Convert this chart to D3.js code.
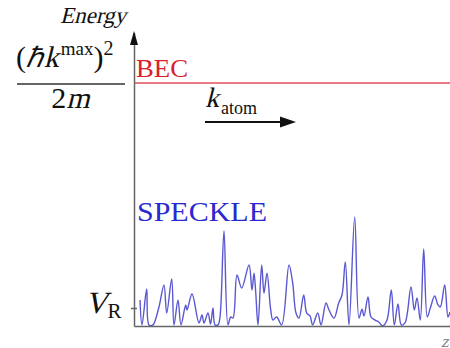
<!DOCTYPE html>
<html>
<head>
<meta charset="utf-8">
<script src="https://cdn.jsdelivr.net/npm/d3@7"></script>
<style>
  body { margin: 0; background: #fff; }
  svg { display: block; }
  text { font-family: "Liberation Serif", "Times New Roman", serif; }
</style>
</head>
<body>
<svg id="chart" width="450" height="348"></svg>
<script>
// speckle potential along z, energy in units of V_R
const zValues = [6, 8, 12.7, 15, 19, 21, 25, 30, 32.7, 37.7, 40, 44, 47, 51.7, 53, 58, 65, 68, 70, 74,
  76.5, 79, 81, 84, 86, 90, 94, 96.7, 99, 103, 107.7, 115, 118, 120, 121.7, 124, 127.7, 130, 133, 136.7,
  139, 142.7, 147.7, 155, 158.7, 162, 165, 169.7, 172.7, 176, 178.7, 183.7, 187, 192, 195, 200, 204.7, 208,
  211.3, 215, 220.7, 225, 228, 230, 234, 237, 241, 244.7, 248.7, 253, 257.3, 260.3, 264, 267.3, 271, 277,
  280.3, 283, 286.3, 289.7, 293.3, 296.3, 300.7, 304, 306.3, 310.7, 314, 316];
const speckleEnergy = [1.44, 0.06, 2.06, 0.06, 0.06, 0.28, 1.06, 2.28, 0.72, 2.61, 0.06, 1.44, 0.06, 1.17, 0.89, 1.78, 0.17, 0.61, 0.17, 0.72,
  0.11, 1.0, 0.06, 0.06, 0.5, 5.28, 0.06, 0.5, 0.44, 2.83, 2.11, 3.39, 2.0, 2.94, 1.89, 0.06, 3.39, 1.83, 2.94, 0.89,
  0.33, 0.5, 0.06, 3.39, 2.39, 0.72, 0.44, 1.72, 0.72, 0.56, 0.06, 0.72, 0.06, 1.28, 0.89, 0.44, 1.28, 1.72,
  3.56, 0.06, 6.06, 0.44, 0.94, 0.56, 1.61, 0.5, 0.33, 0.22, 0, 0.33, 2.0, 0.06, 1.22, 0.06, 0.17, 2.17,
  0.89, 1.56, 0.33, 4.28, 0.5, 1.0, 1.67, 1.17, 1.06, 2.28, 0.5, 0.78];
const vR = 1;          // tick on the energy axis
const becLevel = 13.5; // (hbar k_max)^2 / 2m

const svg = d3.select("#chart");
const x = d3.scaleLinear().domain([0, 316]).range([134, 450]);
const y = d3.scaleLinear().domain([0, becLevel]).range([326, 83]);

// lays out runs of text side by side; italic runs are slanted regular serif glyphs
function mathText(x0, y0, runs, anchor, fill) {
  const g = svg.append("g");
  let cx = 0;
  runs.forEach(r => {
    const t = g.append("text")
      .attr("font-size", r.size)
      .attr("fill", fill || "#111")
      .attr("transform", `translate(${cx + (r.dx || 0)},${r.dy || 0})` + (r.it ? " skewX(-14)" : ""))
      .text(r.t);
    cx += (r.dx || 0) + t.node().getComputedTextLength() + (r.it ? 1 : 0);
  });
  const shift = anchor === "middle" ? -cx / 2 : anchor === "end" ? -cx : 0;
  g.attr("transform", `translate(${x0 + shift},${y0})`);
  return g;
}

// keep the smoothed curve above the z axis
svg.append("clipPath").attr("id", "plot")
  .append("rect").attr("x", x(0)).attr("y", 0).attr("width", 450 - x(0)).attr("height", y(0));

// BEC energy level
svg.append("line")
  .attr("x1", x(0)).attr("x2", x(316))
  .attr("y1", y(becLevel)).attr("y2", y(becLevel))
  .attr("stroke", "#e0505c").attr("stroke-width", 1.6);

// speckle potential
const line = d3.line()
  .x((d, i) => x(zValues[i]))
  .y(d => y(d))
  .curve(d3.curveCatmullRom.alpha(0.5));
svg.append("path")
  .datum(speckleEnergy)
  .attr("clip-path", "url(#plot)")
  .attr("d", line)
  .attr("fill", "none")
  .attr("stroke", "#5a58d0")
  .attr("stroke-width", 1.4);

// axes
svg.append("g")
  .attr("transform", `translate(0,${y(0)})`)
  .call(d3.axisBottom(x).tickValues([]).tickSizeOuter(0));
const yAxis = svg.append("g")
  .attr("transform", `translate(${x(0)},0)`)
  .call(d3.axisLeft(d3.scaleLinear().domain([0, 16.3]).range([y(0), y(0) - 16.3 * 18]))
    .tickValues([vR]).tickSizeInner(3).tickSizeOuter(0).tickFormat(""));
yAxis.selectAll(".tick line").attr("x1", 3);
svg.selectAll(".domain, .tick line").attr("stroke", "#666").attr("stroke-width", 1.5);

// arrowhead on the energy axis
svg.append("path")
  .attr("d", `M${x(0)},31 L${x(0) - 4},45 L${x(0) + 4},45 Z`)
  .attr("fill", "#111");

// labels
mathText(127, 23, [{ t: "Energy", size: 23, it: true }], "end");

mathText(16, 67, [
  { t: "(", size: 30 },
  { t: "ℏ", size: 28, it: true },
  { t: "k", size: 30, it: true },
  { t: "max", size: 19, dy: -12, dx: 1 },
  { t: ")", size: 30 },
  { t: "2", size: 20, dy: -12 }
]);

svg.append("line")
  .attr("x1", 17).attr("x2", 125).attr("y1", 84).attr("y2", 84)
  .attr("stroke", "#333").attr("stroke-width", 1.3);

mathText(71, 108, [{ t: "2", size: 30 }, { t: "m", size: 30, it: true }], "middle");

svg.append("text")
  .attr("x", 136).attr("y", 77)
  .attr("font-size", 25).attr("fill", "#d8202c")
  .attr("textLength", 52).attr("lengthAdjust", "spacingAndGlyphs")
  .text("BEC");

svg.append("text")
  .attr("x", 137).attr("y", 221)
  .attr("font-size", 27).attr("fill", "#2a28d0")
  .attr("textLength", 130).attr("lengthAdjust", "spacingAndGlyphs")
  .text("SPECKLE");

mathText(205, 107, [{ t: "k", size: 28, it: true }, { t: "atom", size: 18, dy: 7, dx: 1 }]);

svg.append("line")
  .attr("x1", 205).attr("x2", 282).attr("y1", 122).attr("y2", 122)
  .attr("stroke", "#111").attr("stroke-width", 2.2);
svg.append("path")
  .attr("d", "M296,122 L280,116.5 L280,127.5 Z")
  .attr("fill", "#111");

mathText(85, 313, [{ t: "V", size: 31, it: true }, { t: "R", size: 21, dy: 5, dx: -1 }]);

mathText(441, 347, [{ t: "z", size: 17, it: true }], "start", "#777");
</script>
</body>
</html>
